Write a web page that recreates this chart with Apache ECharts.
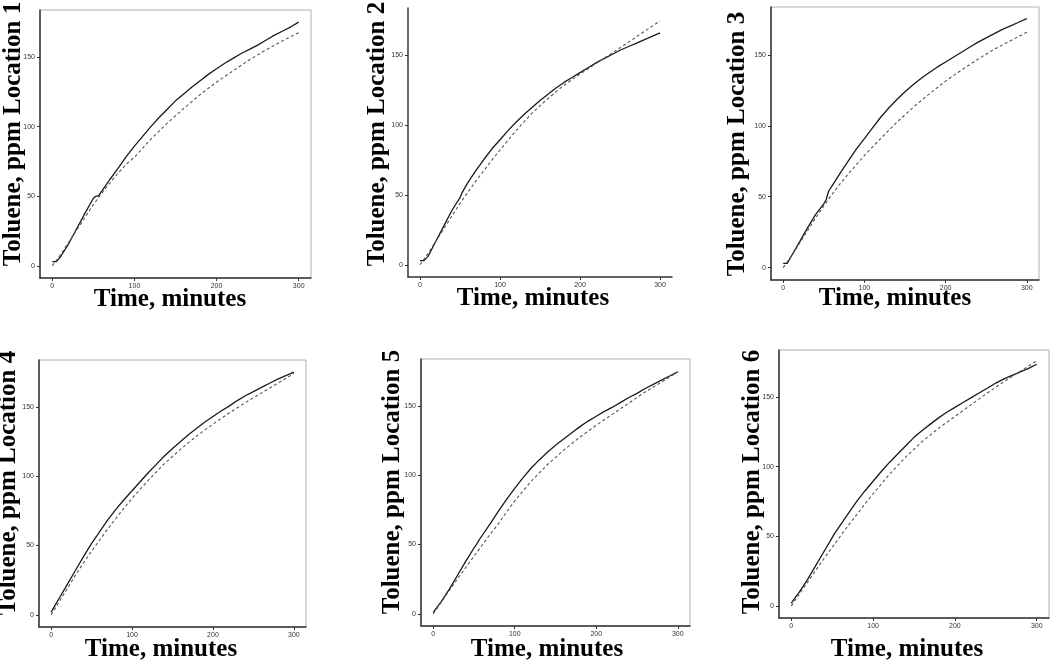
<!DOCTYPE html>
<html>
<head>
<meta charset="utf-8">
<script src="https://cdn.jsdelivr.net/npm/echarts@6/dist/echarts.min.js"></script>
<style>
html,body{margin:0;padding:0;background:#fff;}
#chart{width:1050px;height:663px;}
</style>
</head>
<body>
<div id="chart"></div>
<script>
// ---- data ----
var timeMeasured = [0,5,10,20,30,40,50,53,56,60,70,80,90,100,110,120,130,140,150,160,170,180,190,200,210,220,230,240,250,260,270,280,290,300];
var timeModel = [0,10,20,30,40,50,60,70,80,90,100,120,140,160,180,200,220,240,260,280,300];

var loc1Measured = [3,3,6.5,16,27,38,48.5,50,50,53.5,62,70,78.5,86,93,100,106.5,112.5,118.5,123.5,128.5,133,137.5,141.5,145.5,149,152.5,155.5,158.5,162,165.5,168.5,171.5,175];
var loc1Model = [0,8,17,26,35,44,52,59.5,66.5,73,78,91,102.5,113,123,132,140,148,155,161.5,167.5];

var loc2Measured = [3,3,6,17,28,39,48,52,55,59,67.5,75.5,83,89.5,96,102,107.5,112.5,117.5,122,126.5,130.5,134,137.5,141,144.5,147.5,150.5,153.5,156,158.5,161,163.5,166];
var loc2Model = [0,8,17,26,35,44,52,60,67.5,75,82,96,108.5,119,128.5,136.5,144,151.5,159,166.8,174.5];

var loc3Measured = [3,3,8,18,28,37.5,45,48,54,57.5,66.5,75,83.5,91,98.5,106,112.5,118.5,124,129,133.5,137.5,141.5,145,148.5,152,155.5,159,162,165,168,170.5,173,175.5];
var loc3Model = [0,8,17,26,35,43.5,51.5,59,66,72.5,79,91,102.5,113,122.5,131.5,139.5,147,154,160,166];

var loc4Measured = [2,7,12,22,32,42,51.5,54,56.5,60,68.5,76,83,89.5,96,102.5,108.5,114.5,120,125,130,134.5,139,143,147,150.5,154.5,158,161,164,167,170,172.5,175];
var loc4Model = [0,9.5,19,28.5,37.5,46,54,62,69.5,77,84,97,109,119.5,129,137.5,145.5,153,160,167,174];

var loc5Measured = [1,5,9,18,28,38,47.5,50,53,56.5,65,74,82.5,90.5,98,105,111,116.5,121.5,126,130.5,135,139,142.5,146,149,152.5,156,159,162.5,165.5,168.5,171.5,174.5];
var loc5Model = [0,8.5,17,25.5,33.5,41.5,49.5,57.5,65,73.5,81.5,95.5,107.5,118,127.5,136,144,152,160,167,174.5];

var loc6Measured = [2,6,10,19,29,39,49,52,54.5,58,66.5,75,82.5,89.5,96.5,103,109,115,121,126,130.5,135,139,142.5,146,149.5,153,156.5,160,163,165.5,168,170.5,173.5];
var loc6Model = [0,8.5,17,25.5,34,42,50,58,65.5,73,80.5,94.5,107,118,127.5,136,144.5,153,161,168.5,176];

var xTicks = [0,100,200,300];
var yTicks = [0,50,100,150];
var locationNames = ['Location 1','Location 2','Location 3','Location 4','Location 5','Location 6'];
var xTitle = 'Time, minutes';
var yTitlePrefix = 'Toluene, ppm ';

var measuredSets = [loc1Measured,loc2Measured,loc3Measured,loc4Measured,loc5Measured,loc6Measured];
var modelSets = [loc1Model,loc2Model,loc3Model,loc4Model,loc5Model,loc6Model];

// ---- layout ----
var grids = [
  {left:40, top:10, width:271, height:268, box:true},
  {left:408, top:8, width:264, height:269, box:false},
  {left:771, top:7, width:268, height:273, box:true},
  {left:39, top:360, width:267, height:267, box:true},
  {left:421, top:359, width:269, height:267, box:true},
  {left:779, top:350, width:270, height:268, box:true}
];
var yTitlePos = [[14,134],[378,134],[738,144],[9,483],[393,482],[753,482]];
var xTitlePos = [[170,300],[533,299],[895,299],[161,650],[547,650],[907,650]];

function zip(t, v){ return t.map(function(x,i){ return [x, v[i]]; }); }

var option = {
  animation:false,
  backgroundColor:'#fff',
  grid: grids.map(function(g){
    return {left:g.left, top:g.top, width:g.width, height:g.height, containLabel:false, outerBoundsMode:'none',
      show:g.box, borderColor:'#b0b0b0', borderWidth:1, backgroundColor:'transparent'};
  }),
  xAxis: grids.map(function(g,i){
    return {type:'value', gridIndex:i, min:-15, max:315,
      axisLine:{show:true, onZero:false, lineStyle:{color:'#333', width:1.5}},
      axisTick:{show:true, length:3, customValues:xTicks, lineStyle:{color:'#333'}},
      axisLabel:{show:true, customValues:xTicks, fontSize:7, color:'#333', margin:5, fontFamily:'Liberation Sans'},
      splitLine:{show:false}};
  }),
  yAxis: grids.map(function(g,i){
    return {type:'value', gridIndex:i, min:-8.75, max:183.75,
      axisLine:{show:true, onZero:false, lineStyle:{color:'#333', width:1.5}},
      axisTick:{show:true, length:3, customValues:yTicks, lineStyle:{color:'#333'}},
      axisLabel:{show:true, customValues:yTicks, fontSize:7, color:'#333', margin:5, fontFamily:'Liberation Sans'},
      splitLine:{show:false}};
  }),
  series: [],
  graphic: []
};

for (var i=0;i<6;i++){
  option.series.push({type:'line', xAxisIndex:i, yAxisIndex:i, name:'Measured '+locationNames[i],
    data:zip(timeMeasured, measuredSets[i]), showSymbol:false, symbol:'none',
    lineStyle:{color:'#1a1a1a', width:1.3, type:'solid'}});
  option.series.push({type:'line', xAxisIndex:i, yAxisIndex:i, name:'Model '+locationNames[i],
    data:zip(timeModel, modelSets[i]), showSymbol:false, symbol:'none',
    lineStyle:{color:'#555', width:1.1, type:[3,2.5]}});
  option.graphic.push({type:'text', x:yTitlePos[i][0], y:yTitlePos[i][1], rotation:Math.PI/2,
    style:{text:yTitlePrefix+locationNames[i], fill:'#000', font:'bold 25px "Liberation Serif"', align:'center', verticalAlign:'middle'}});
  option.graphic.push({type:'text', x:xTitlePos[i][0], y:xTitlePos[i][1],
    style:{text:xTitle, fill:'#000', font:'bold 25px "Liberation Serif"', align:'center', verticalAlign:'middle'}});
}

var chart = echarts.init(document.getElementById('chart'), null, {renderer:'canvas'});
chart.setOption(option);
</script>
</body>
</html>
